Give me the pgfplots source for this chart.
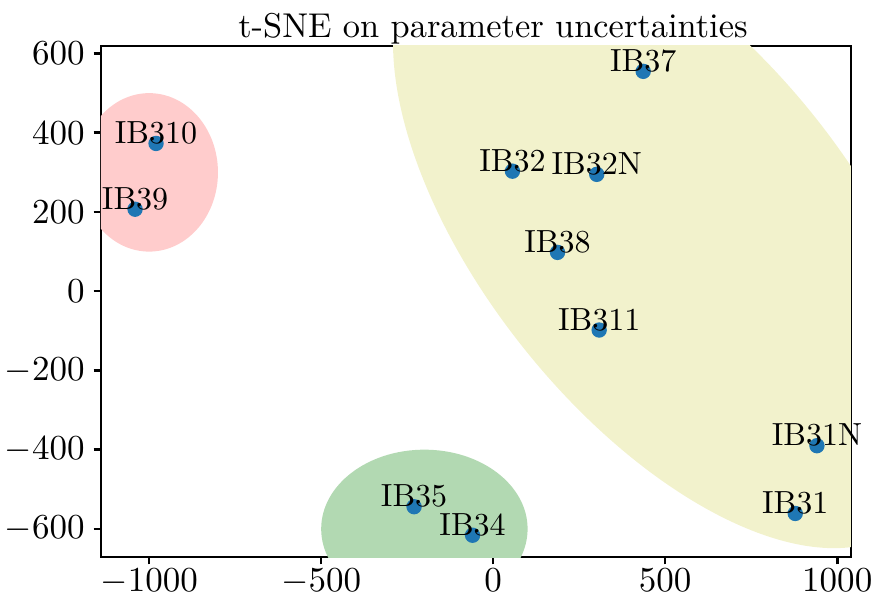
\documentclass[border=0pt]{standalone}
\usepackage{pgfplots}
\pgfplotsset{compat=1.18}
\definecolor{tabblue}{RGB}{31,119,180}
\definecolor{redfill}{RGB}{255,204,204}
\definecolor{greenfill}{RGB}{178,217,178}
\definecolor{yellowfill}{RGB}{242,242,204}

\pgfplotstableread{
x y label
436 555 IB37
-980 373 IB310
-1041 207 IB39
56 303 IB32
301 295 IB32N
187 98 IB38
308 -98 IB311
941 -390 IB31N
878 -561 IB31
-230 -544 IB35
-60 -616 IB34
}\tsnedata

\begin{document}
\begin{tikzpicture}
\begin{axis}[
    name=ax,
    scale only axis,
    width=234.375pt, height=159.6875pt,
    xmin=-1140, xmax=1040, ymin=-671, ymax=619,
    xtick={-1000,-500,0,500,1000},
    ytick={-600,-400,-200,0,200,400,600},
    /pgf/number format/1000 sep={},
    scaled ticks=false,
    tick pos=left, tick align=outside,
    major tick length=2.3pt,
    every tick/.style={black, line width=0.8pt},
    axis line style={line width=0.8pt},
    tick label style={font=\fontsize{11}{13}\selectfont},
    xticklabel style={inner sep=1.2pt},
    yticklabel style={inner sep=2.6pt},
    every axis title shift=0pt,
    title={t-SNE on parameter uncertainties},
    title style={at={(0.5,1)}, anchor=base, yshift=2.5pt, xshift=5.3pt,
        font=\fontsize{10.75}{12}\selectfont, inner sep=0pt},
]
% shaded groups
\fill[redfill] (axis cs:-1000,300) ellipse [x radius=200, y radius=200];
\fill[greenfill] (axis cs:-200,-600) ellipse [x radius=300, y radius=200];
\fill[yellowfill, rotate around={-51.4:(axis cs:511,149)}]
    (axis cs:511,149) ellipse [x radius=117.5pt, y radius=58.1pt];

\addplot[only marks, mark=*, mark size=2.2pt, color=tabblue,
    nodes near coords, point meta=explicit symbolic,
    every node near coord/.style={anchor=base, inner sep=0pt, black, font=\normalsize}]
    table[x=x, y=y, meta=label] {\tsnedata};
\end{axis}
\pgfresetboundingbox
\useasboundingbox ([shift={(-31.5625pt,-11.875pt)}]ax.south west)
    rectangle ([shift={(8.125pt,14.375pt)}]ax.north east);
\end{tikzpicture}
\end{document}
